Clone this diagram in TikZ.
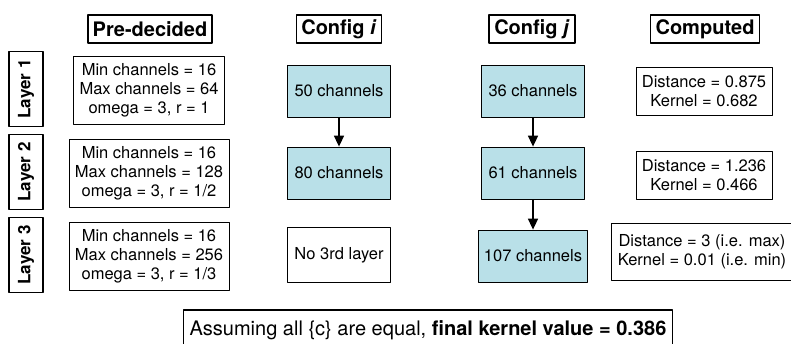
\documentclass[tikz,border=0pt]{standalone}
\usepackage{fontspec}
\setmainfont{TeX Gyre Heros}
\usetikzlibrary{arrows.meta}
\definecolor{cellblue}{RGB}{185,224,232}
\begin{document}
\begin{tikzpicture}[x=1pt, y=-1pt, line join=round, >={Triangle[width=10pt,length=11pt]},
	head/.style={draw, line width=1.6pt, font=\fontsize{20}{24}\selectfont\bfseries, inner xsep=5pt, minimum height=28pt},
	layer/.style={draw, line width=1.6pt, rotate=90, font=\fontsize{17}{20}\selectfont\bfseries, minimum width=75pt, minimum height=34pt, inner sep=0pt},
	info/.style={draw, line width=0.8pt, align=center, font=\fontsize{16.5}{19}\selectfont, inner xsep=6pt},
	chan/.style={info, fill=cellblue, minimum width=103pt, minimum height=52pt, inner xsep=5.5pt}]
	\useasboundingbox (0,0) rectangle (791,343);
	% column heads
	\node[head] (hpre) at (150,29) {Pre-decided};
	\node[head] (hci) at (339,29) {Config \textit{i}};
	\node[head] (hcj) at (532,29) {Config \textit{j}};
	\node[head] (hcomp) at (705,29) {Computed};
	% layers
	\node[layer] (l1) at (26,89) {Layer 1};
	\node[layer] (l2) at (26,172) {Layer 2};
	\node[layer] (l3) at (26,255) {Layer 3};
	% pre-decided
	\node[info, minimum height=68pt] (p1) at (149,90) {Min channels = 16\\Max channels = 64\\omega = 3, r = 1};
	\node[info, minimum height=68pt] (p2) at (149,173) {Min channels = 16\\Max channels = 128\\omega = 3, r = 1/2};
	\node[info, minimum height=68pt] (p3) at (149,256) {Min channels = 16\\Max channels = 256\\omega = 3, r = 1/3};
	% config i
	\node[chan] (ci1) at (339,91) {50 channels};
	\node[chan] (ci2) at (339,173) {80 channels};
	\node[info, minimum width=103pt, minimum height=55pt] (ci3) at (339,255) {No 3rd layer};
	% config j
	\node[chan] (cj1) at (533,91) {36 channels};
	\node[chan] (cj2) at (533,173) {61 channels};
	\node[chan] (cj3) at (533,256) {107 channels};
	% computed
	\node[info, minimum height=48pt] (k1) at (704,91) {Distance = 0.875\\Kernel = 0.682};
	\node[info, minimum height=48pt] (k2) at (704,175) {Distance = 1.236\\Kernel = 0.466};
	\node[info, minimum height=57pt] (k3) at (702,252) {Distance = 3 (i.e. max)\\Kernel = 0.01 (i.e. min)};
	% arrows
	\draw[->, line width=1.6pt] (ci1) -- (ci2);
	\draw[->, line width=1.6pt] (cj1) -- (cj2);
	\draw[->, line width=1.6pt] (cj2) -- (cj3);
	% result
	\node[draw, line width=1.2pt, font=\fontsize{20}{24}\selectfont, minimum height=40pt, inner xsep=6pt] (res) at (428,330) {Assuming all \{c\} are equal, \textbf{final kernel value = 0.386}};
\end{tikzpicture}
\end{document}
